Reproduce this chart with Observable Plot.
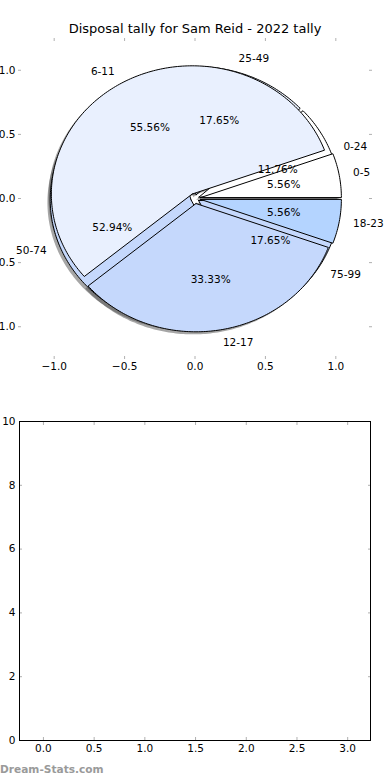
<!DOCTYPE html>
<html><head><meta charset="utf-8">
<script src="https://cdn.jsdelivr.net/npm/d3@7"></script>
<script src="https://cdn.jsdelivr.net/npm/@observablehq/plot@0.6"></script>
<style>
body{margin:0;background:white;font-family:"DejaVu Sans",sans-serif;}
#wrap{position:relative;width:390px;height:780px;overflow:hidden;background:white}
#title{position:absolute;left:0;top:21px;width:390px;text-align:center;font-size:13px;line-height:16px;color:#000}
#pie{position:absolute;left:0;top:36px}
#empty{position:absolute;left:0;top:380px}
#mark{position:absolute;left:0;top:763px;font-size:10.6px;font-weight:bold;color:#9a9a9a}
</style></head><body>
<div id="wrap">
  <div id="title"></div>
  <div id="pie"></div>
  <div id="empty"></div>
  <div id="mark"></div>
</div>
<script>
const titleText = "Disposal tally for Sam Reid - 2022 tally";
const watermark = "Dream-Stats.com";

// Pie drawn first (underneath): 25-wide bins
const bins2 = ["0-24", "25-49", "50-74", "75-99"];
const counts2 = [2, 3, 9, 3];
const colors2 = ["#ffffff", "#e9f0fe", "#c5d8fc", "#c5d8fc"];

// Pie drawn on top: 6-wide bins
const bins1 = ["0-5", "6-11", "12-17", "18-23"];
const counts1 = [1, 10, 6, 1];
const colors1 = ["#ffffff", "#e9f0fe", "#c5d8fc", "#b4d4ff"];

const pieTicks = [-1, -0.5, 0, 0.5, 1];
const emptyXTicks = [0, 0.5, 1, 1.5, 2, 2.5, 3];
const emptyYTicks = [0, 2, 4, 6, 8, 10];

document.getElementById("title").textContent = titleText;
document.getElementById("mark").textContent = watermark;

function wedges(bins, counts, colors, explode) {
  const total = d3.sum(counts);
  let a = 0;
  return bins.map((b, i) => {
    const a1 = a, a2 = a + counts[i] / total * 360; a = a2;
    const mid = (a1 + a2) / 2 * Math.PI / 180;
    const cx = explode * Math.cos(mid), cy = explode * Math.sin(mid);
    const pts = [[cx, cy]];
    const n = Math.max(2, Math.ceil(a2 - a1));
    for (let k = 0; k <= n; k++) {
      const t = (a1 + (a2 - a1) * k / n) * Math.PI / 180;
      pts.push([cx + Math.cos(t), cy + Math.sin(t)]);
    }
    pts.push([cx, cy]);
    const lx = cx + 1.1 * Math.cos(mid), ly = cy + 1.1 * Math.sin(mid);
    return {
      bin: b, pct: counts[i] / total * 100, color: colors[i], pts,
      label: {x: lx, y: ly, text: b, left: lx > 0},
      pctLabel: {x: cx + 0.6 * Math.cos(mid), y: cy + 0.6 * Math.sin(mid), text: (counts[i] / total * 100).toFixed(2) + "%"}
    };
  });
}

const w2 = wedges(bins2, counts2, colors2, 0.03);
const w1 = wedges(bins1, counts1, colors1, 0.04);
const all = [...w2, ...w1];

const shadowMarks = all.map(w => Plot.line(w.pts, {
  x: d => d[0] - 0.02, y: d => d[1] - 0.02, fill: "#4d4d4d", fillOpacity: 0.5, stroke: "none", curve: "linear"
}));
const wedgeMarks = all.map(w => Plot.line(w.pts, {
  x: d => d[0], y: d => d[1], fill: w.color, stroke: "black", strokeWidth: 1, strokeLinejoin: "miter", curve: "linear"
}));
const labels = all.map(w => w.label);
const pctLabels = all.map(w => w.pctLabel);

const gray = "#b0b0b0";
const lim = 1.232;

const pie = Plot.plot({
  width: 390, height: 344,
  marginLeft: 21, marginRight: 22, marginTop: 4, marginBottom: 24,
  style: {fontFamily: "DejaVu Sans", fontSize: "10.5px", background: "white", overflow: "hidden", color: "black"},
  x: {domain: [-lim, lim], axis: null},
  y: {domain: [-lim, lim], axis: null},
  marks: [
    ...shadowMarks,
    ...wedgeMarks,
    Plot.text(labels.filter(d => d.left), {x: "x", y: "y", text: "text", textAnchor: "start", fontSize: 10.5, fill: "black"}),
    Plot.text(labels.filter(d => !d.left), {x: "x", y: "y", text: "text", textAnchor: "end", fontSize: 10.5, fill: "black"}),
    Plot.text(pctLabels, {x: "x", y: "y", text: "text", textAnchor: "middle", fontSize: 10.5, fill: "black"}),
    Plot.axisX({anchor: "bottom", ticks: pieTicks, tickFormat: ".1f", tickSize: 3, tickPadding: 3, stroke: gray, fill: "black", label: null}),
    Plot.axisX({anchor: "top", ticks: pieTicks, tickFormat: () => "", tickSize: 3, stroke: gray, label: null}),
    Plot.axisY({anchor: "left", ticks: pieTicks, tickFormat: ".1f", tickSize: 3, tickPadding: 3, stroke: gray, fill: "black", label: null}),
    Plot.axisY({anchor: "right", ticks: pieTicks, tickFormat: () => "", tickSize: 3, stroke: gray, label: null})
  ]
});
document.getElementById("pie").appendChild(pie);

const empty = Plot.plot({
  width: 390, height: 380,
  marginLeft: 19, marginRight: 20, marginTop: 41, marginBottom: 20,
  style: {fontFamily: "DejaVu Sans", fontSize: "10.5px", background: "white", overflow: "hidden", color: "black"},
  x: {domain: [-0.236, 3.225], axis: null},
  y: {domain: [0, 10], axis: null},
  marks: [
    Plot.axisX({anchor: "bottom", ticks: emptyXTicks, tickFormat: ".1f", tickSize: 0, tickPadding: 4, fill: "black", label: null}),
    Plot.axisX({anchor: "bottom", ticks: emptyXTicks, tickFormat: () => "", tickSize: -3, stroke: gray, label: null}),
    Plot.axisX({anchor: "top", ticks: emptyXTicks, tickFormat: () => "", tickSize: -3, stroke: gray, label: null}),
    Plot.axisY({anchor: "left", ticks: emptyYTicks, tickFormat: d => String(d), tickSize: 0, tickPadding: 4, fill: "black", label: null}),
    Plot.axisY({anchor: "left", ticks: emptyYTicks, tickFormat: () => "", tickSize: -3, stroke: gray, label: null}),
    Plot.axisY({anchor: "right", ticks: emptyYTicks, tickFormat: () => "", tickSize: -3, stroke: gray, label: null}),
    Plot.frame({stroke: "black", strokeWidth: 1})
  ]
});
document.getElementById("empty").appendChild(empty);
</script>
</body></html>
